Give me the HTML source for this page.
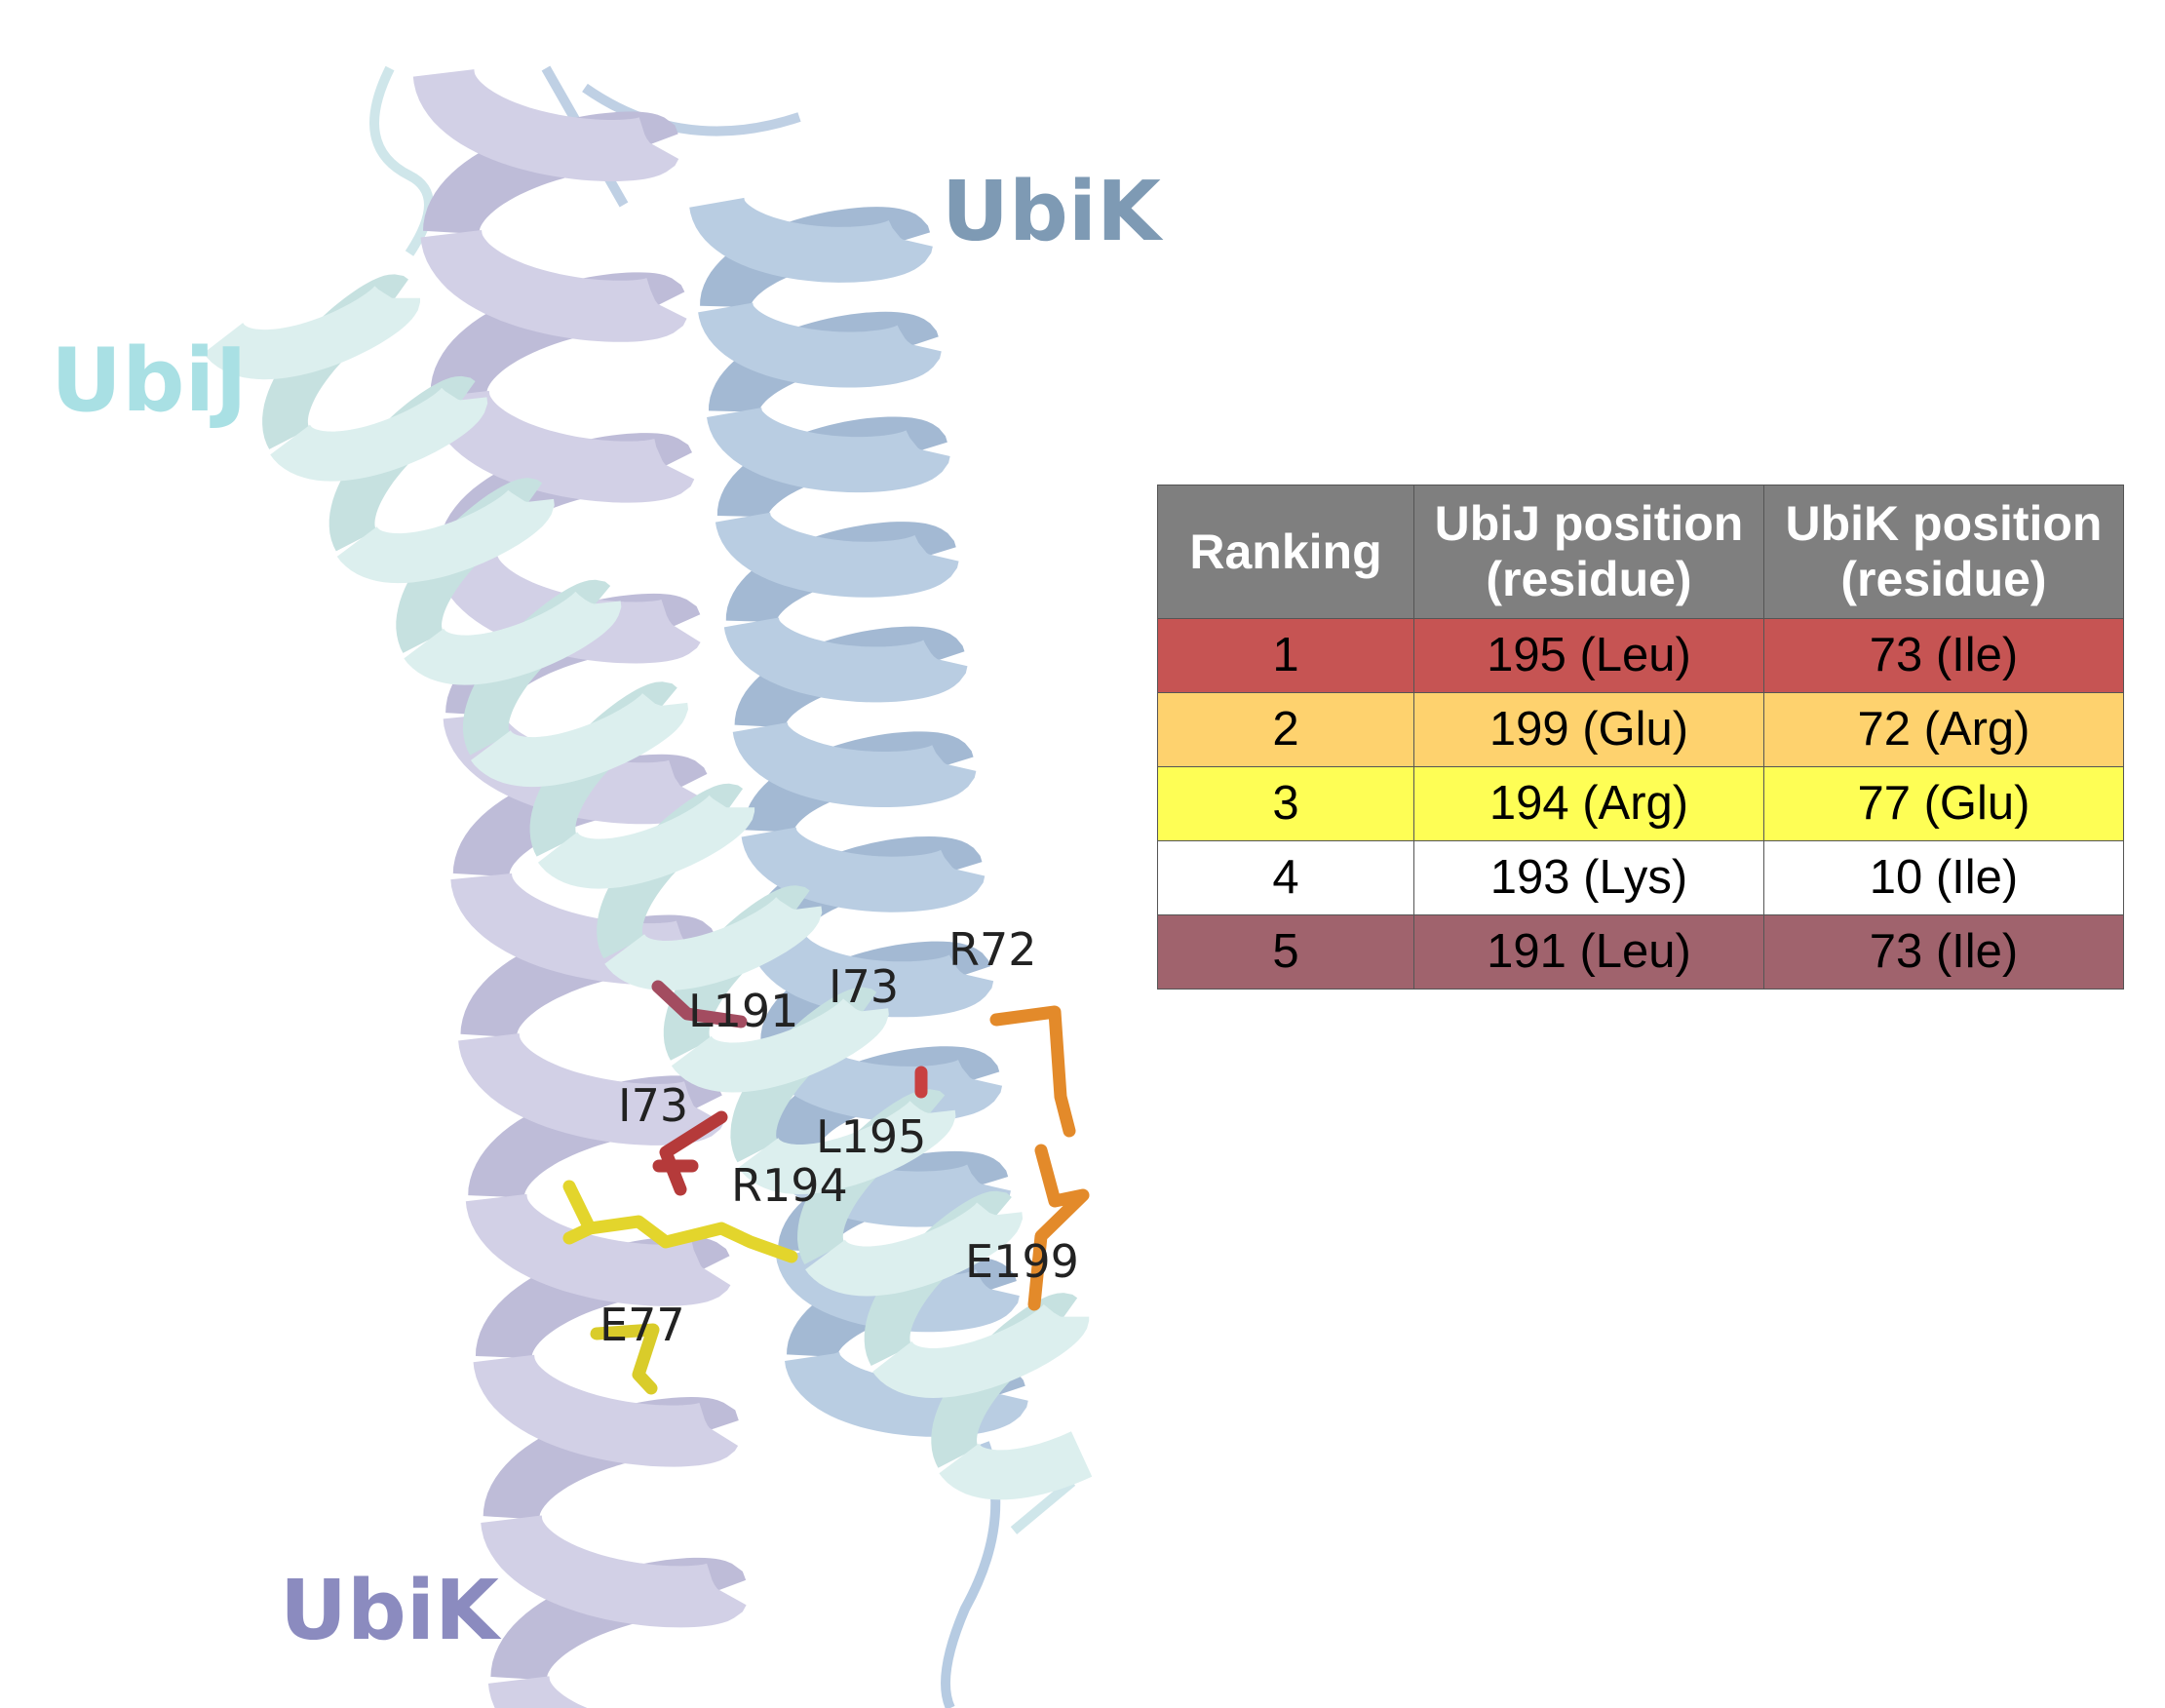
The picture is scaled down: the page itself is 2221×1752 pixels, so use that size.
<!DOCTYPE html>
<html><head><meta charset="utf-8"><style>
html,body{margin:0;padding:0;background:#fff;width:2221px;height:1752px;overflow:hidden}
svg{position:absolute;left:0;top:0}
table{position:absolute;left:1187px;top:497px;width:992px;border-collapse:collapse;font-family:"Liberation Sans",sans-serif;font-size:49px;text-align:center}
td,th{border:1px solid #555;padding:0;line-height:57px}
th{background:#7f7f7f;color:#fff;font-weight:bold;height:136px;font-size:50px}
tr.r td{height:75px}
</style></head><body>
<svg id="s" width="2221" height="1752" xmlns="http://www.w3.org/2000/svg"></svg>
<table>
<tr><th style="width:262px">Ranking</th><th style="width:358px">UbiJ position<br>(residue)</th><th>UbiK position<br>(residue)</th></tr>
<tr class="r" style="background:#c65453"><td>1</td><td>195 (Leu)</td><td>73 (Ile)</td></tr>
<tr class="r" style="background:#fed26e"><td>2</td><td>199 (Glu)</td><td>72 (Arg)</td></tr>
<tr class="r" style="background:#fefe55"><td>3</td><td>194 (Arg)</td><td>77 (Glu)</td></tr>
<tr class="r" style="background:#fff"><td>4</td><td>193 (Lys)</td><td>10 (Ile)</td></tr>
<tr class="r" style="background:#a0636d"><td>5</td><td>191 (Leu)</td><td>73 (Ile)</td></tr>
</table>
<script>
var s=document.getElementById('s'),NS='http://www.w3.org/2000/svg';
function el(t,a,txt){var e=document.createElementNS(NS,t);for(var k in a)e.setAttribute(k,a[k]);if(txt)e.textContent=txt;s.appendChild(e);return e;}
function helix(x0,y0,x1,y1,r,pitch,front,back){
 var dx=x1-x0,dy=y1-y0,L=Math.hypot(dx,dy),ux=dx/L,uy=dy/L,px=-uy,py=ux;
 var n=L/pitch*Math.PI*2;
 var pts=function(a,b){var d='';for(var t=a;t<=b;t+=0.08){var along=t/(Math.PI*2)*pitch;var c=Math.cos(t),sn=Math.sin(t);
  var x=x0+ux*(along+r*0.35*sn)+px*r*c,y=y0+uy*(along+r*0.35*sn)+py*r*c;d+=(d?'L':'M')+x.toFixed(1)+' '+y.toFixed(1);}return d;};
 for(var k=0;k<n;k+=Math.PI*2){
  el('path',{d:pts(k+Math.PI,Math.min(k+2*Math.PI,n)),fill:'none',stroke:back,'stroke-width':r*0.55});
 }
 for(var k=0;k<n;k+=Math.PI*2){
  el('path',{d:pts(k,Math.min(k+Math.PI,n)),fill:'none',stroke:front,'stroke-width':r*0.6});
 }
}
el('path',{d:'M400 70 Q360 150 420 180 Q460 200 420 260',fill:'none',stroke:'#cfe6ea','stroke-width':10});
el('path',{d:'M560 70 Q600 140 640 210',fill:'none',stroke:'#bfd0e4','stroke-width':10});
el('path',{d:'M600 90 Q700 160 820 120',fill:'none',stroke:'#bfd0e4','stroke-width':10});
helix(560,70,640,1780,105,165,'#d2d0e6','#bebcd8');
helix(830,200,935,1470,95,108,'#b9cde2','#a3b9d3');
el('path',{d:'M1010 1480 Q1040 1560 990 1650 Q960 1720 975 1752',fill:'none',stroke:'#b6cbe2','stroke-width':10});
el('path',{d:'M1040 1570 L1100 1520',fill:'none',stroke:'#cfe6ea','stroke-width':10});
helix(300,300,1075,1480,85,125,'#dcefee','#c6e1e0');
function stick(pts,c){el('polyline',{points:pts,fill:'none',stroke:c,'stroke-width':13,'stroke-linejoin':'round','stroke-linecap':'round'});}
stick('584,1217 605,1260 655,1253 683,1274 740,1260 770,1274 812,1289','#e3d52c');
stick('584,1270 605,1260','#e3d52c');
stick('612,1368 670,1364 655,1410 668,1424','#d9cc2a');
stick('698,1220 683,1182 740,1146','#b53a3a');
stick('676,1196 710,1196','#b53a3a');
stick('675,1012 705,1040 760,1048','#a34c60');
stick('1022,1046 1082,1038 1088,1125 1097,1160','#e38a2a');
stick('1068,1180 1082,1232 1111,1226 1068,1268 1061,1338','#e38a2a');
stick('945,1120 945,1100','#c84040');
var f='"DejaVu Sans","Liberation Sans",sans-serif';
[['L191',706,1053],['I73',850,1028],['R72',973,990],['I73',634,1150],['L195',837,1182],['R194',750,1232],['E199',990,1310],['E77',615,1375]].forEach(function(a){el('text',{x:a[1],y:a[2],'font-family':f,'font-size':46,fill:'#222'},a[0]);});
el('text',{x:966,y:246,'font-family':f,'font-size':85,'font-weight':'bold',fill:'#7e9ab4'},'UbiK');
el('text',{x:52,y:421,'font-family':f,'font-size':90,'font-weight':'bold',fill:'#a9e0e4'},'UbiJ');
el('text',{x:287,y:1681,'font-family':f,'font-size':85,'font-weight':'bold',fill:'#8b8bbf'},'UbiK');
</script>
</body></html>
